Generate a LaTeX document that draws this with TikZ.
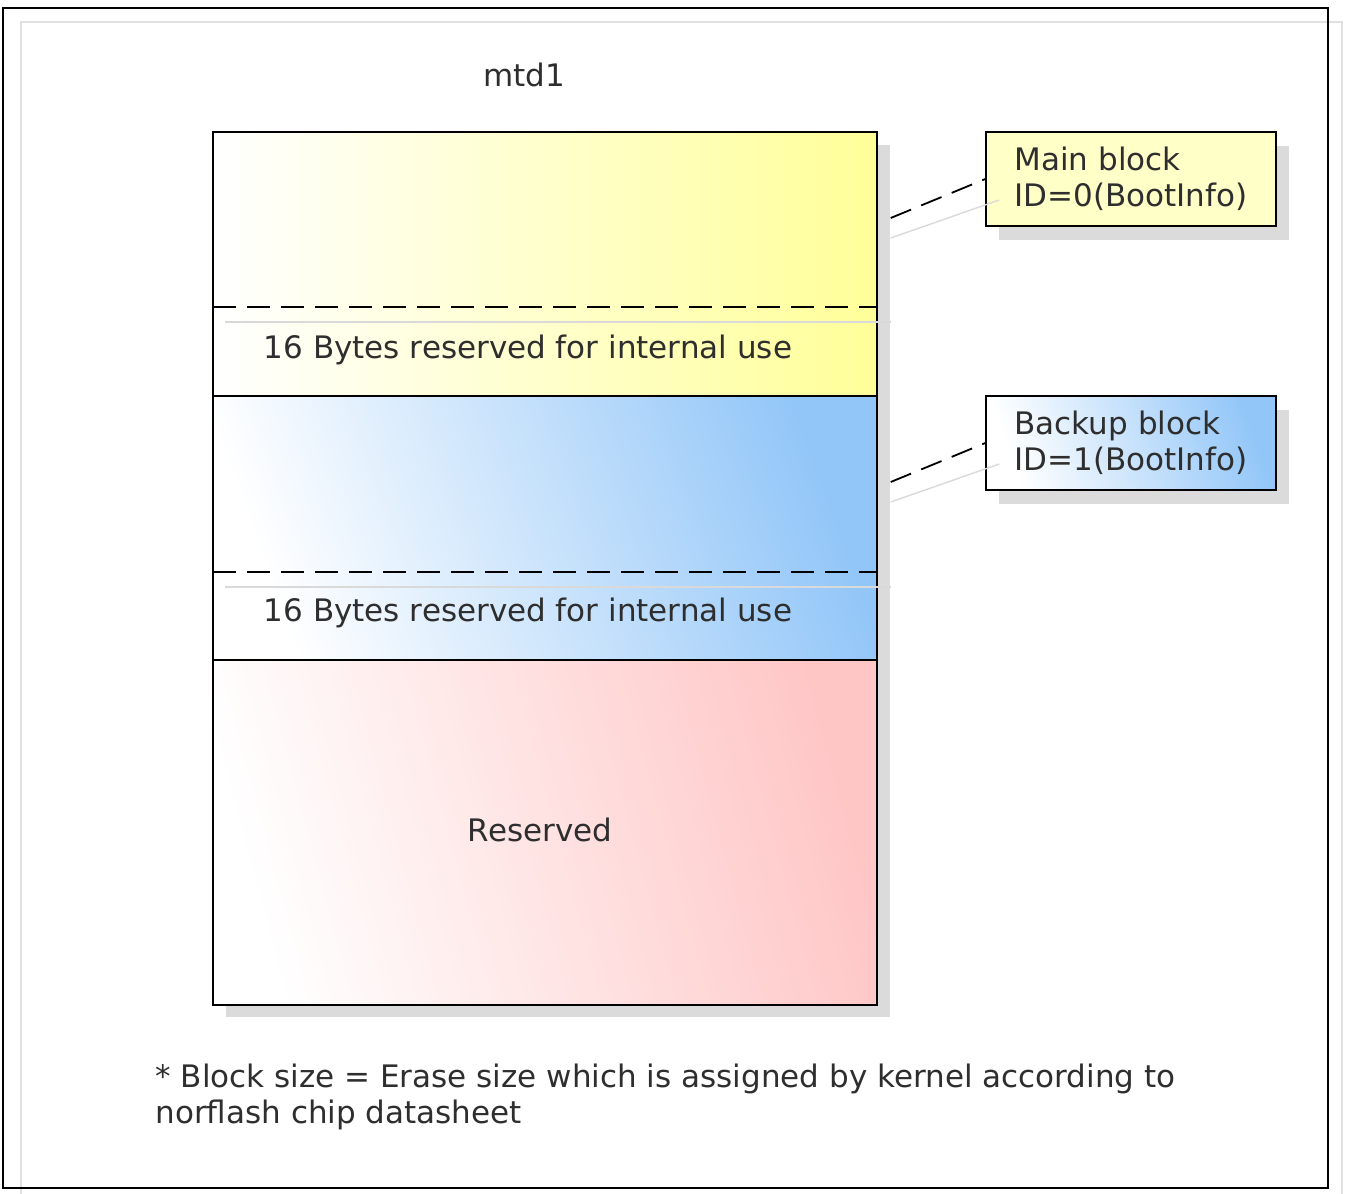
\documentclass[tikz,border=0pt]{standalone}
\usepackage{fontspec}
\setmainfont{DejaVu Sans}
\usepackage{xcolor}
\usetikzlibrary{positioning}
\usetikzlibrary{calc}
\definecolor{memyellow}{HTML}{FFFF99}
\definecolor{memblue}{HTML}{92C6F8}
\definecolor{mempink}{HTML}{FFC6C6}
\definecolor{noteyellow}{HTML}{FFFFC8}
\tikzstyle{section}=[rectangle,draw=black,line width=1.4pt,minimum width=664pt,inner sep=0pt]
\tikzstyle{shade}=[fill=black!14,draw=none]
\tikzstyle{divider}=[draw,line width=1.8pt,dash pattern=on 23pt off 11pt]
\tikzstyle{ghost}=[draw,black!15,line width=1.4pt]
\tikzstyle{note}=[rectangle,draw=black,line width=1.4pt,minimum width=290pt,minimum height=94pt,align=left,inner sep=0pt,text=black!82]
\tikzstyle{leader}=[draw,line width=1.8pt,dash pattern=on 22pt off 11pt]
\tikzstyle{label}=[text=black!82]

\begin{document}
\begin{tikzpicture}[x=1pt,y=-1pt,font=\fontsize{31}{36.5}\selectfont]
    \useasboundingbox (0,0) rectangle (1347,1194);
    % outer frame and its shadow
    \draw[black!12,line width=1.2pt] (21,1194) -- (21,22) -- (1342,22) -- (1342,1194);
    \draw[line width=1.6pt] (3,8) rectangle (1328,1188);
    \node[label] (title) at (524,75) {mtd1};

    % shadow behind the partition
    \fill[shade] (877,145) rectangle (890,1017);
    \fill[shade] (226,1005) rectangle (890,1017);

    % the three parts of the partition
    \node[section, minimum height=264pt, left color=white, right color=memyellow] (mainblk) at (545,264) {};
    \node[section, minimum height=264pt, left color=white, right color=memblue, shading angle=110] (backblk) at (545,528) {};
    \node[section, minimum height=345pt, left color=white, right color=mempink, shading angle=105] (resv) at (545,832.5) {};

    % 16 byte tails
    \foreach \name/\blk/\y in {mcut/mainblk/307, bcut/backblk/572} {
        \coordinate (\name) at (213,\y);
        \draw[divider] (\name) -- (\name -| \blk.east);
        \draw[ghost] ($(\name)+(12,15)$) -- ($(\name -| \blk.east)+(13,15)$);
    }
    \node[label] (mres) at (528,350) {16 Bytes reserved for internal use};
    \node[label] (bres) at (528,613) {16 Bytes reserved for internal use};
    \node[label] (rtext) at (540,830) {Reserved};

    % notes on the right
    \foreach \y in {179, 443}
        \fill[shade] (999,\y-33) rectangle (1289,\y+61);
    \node[note, fill=noteyellow] (mainnote) at (1131,179) {Main block\\ID=0(BootInfo)};
    \node[note, left color=white, right color=memblue, shading angle=110] (backnote) at (1131,443) {Backup block\\ID=1(BootInfo)};

    \foreach \blk/\nt in {mainblk/mainnote, backblk/backnote} {
        \draw[ghost] ($(\blk.east)+(13,-26)$) -- ($(\nt.west)+(14,21)$);
        \path[leader] ($(\blk.east)+(13,-46)$) -- (\nt.west);
    }

    \node[label, anchor=west, align=left] (foot) at (152,1097) {* Block size = Erase size which is assigned by kernel according to\\norflash chip datasheet};
\end{tikzpicture}
\end{document}
